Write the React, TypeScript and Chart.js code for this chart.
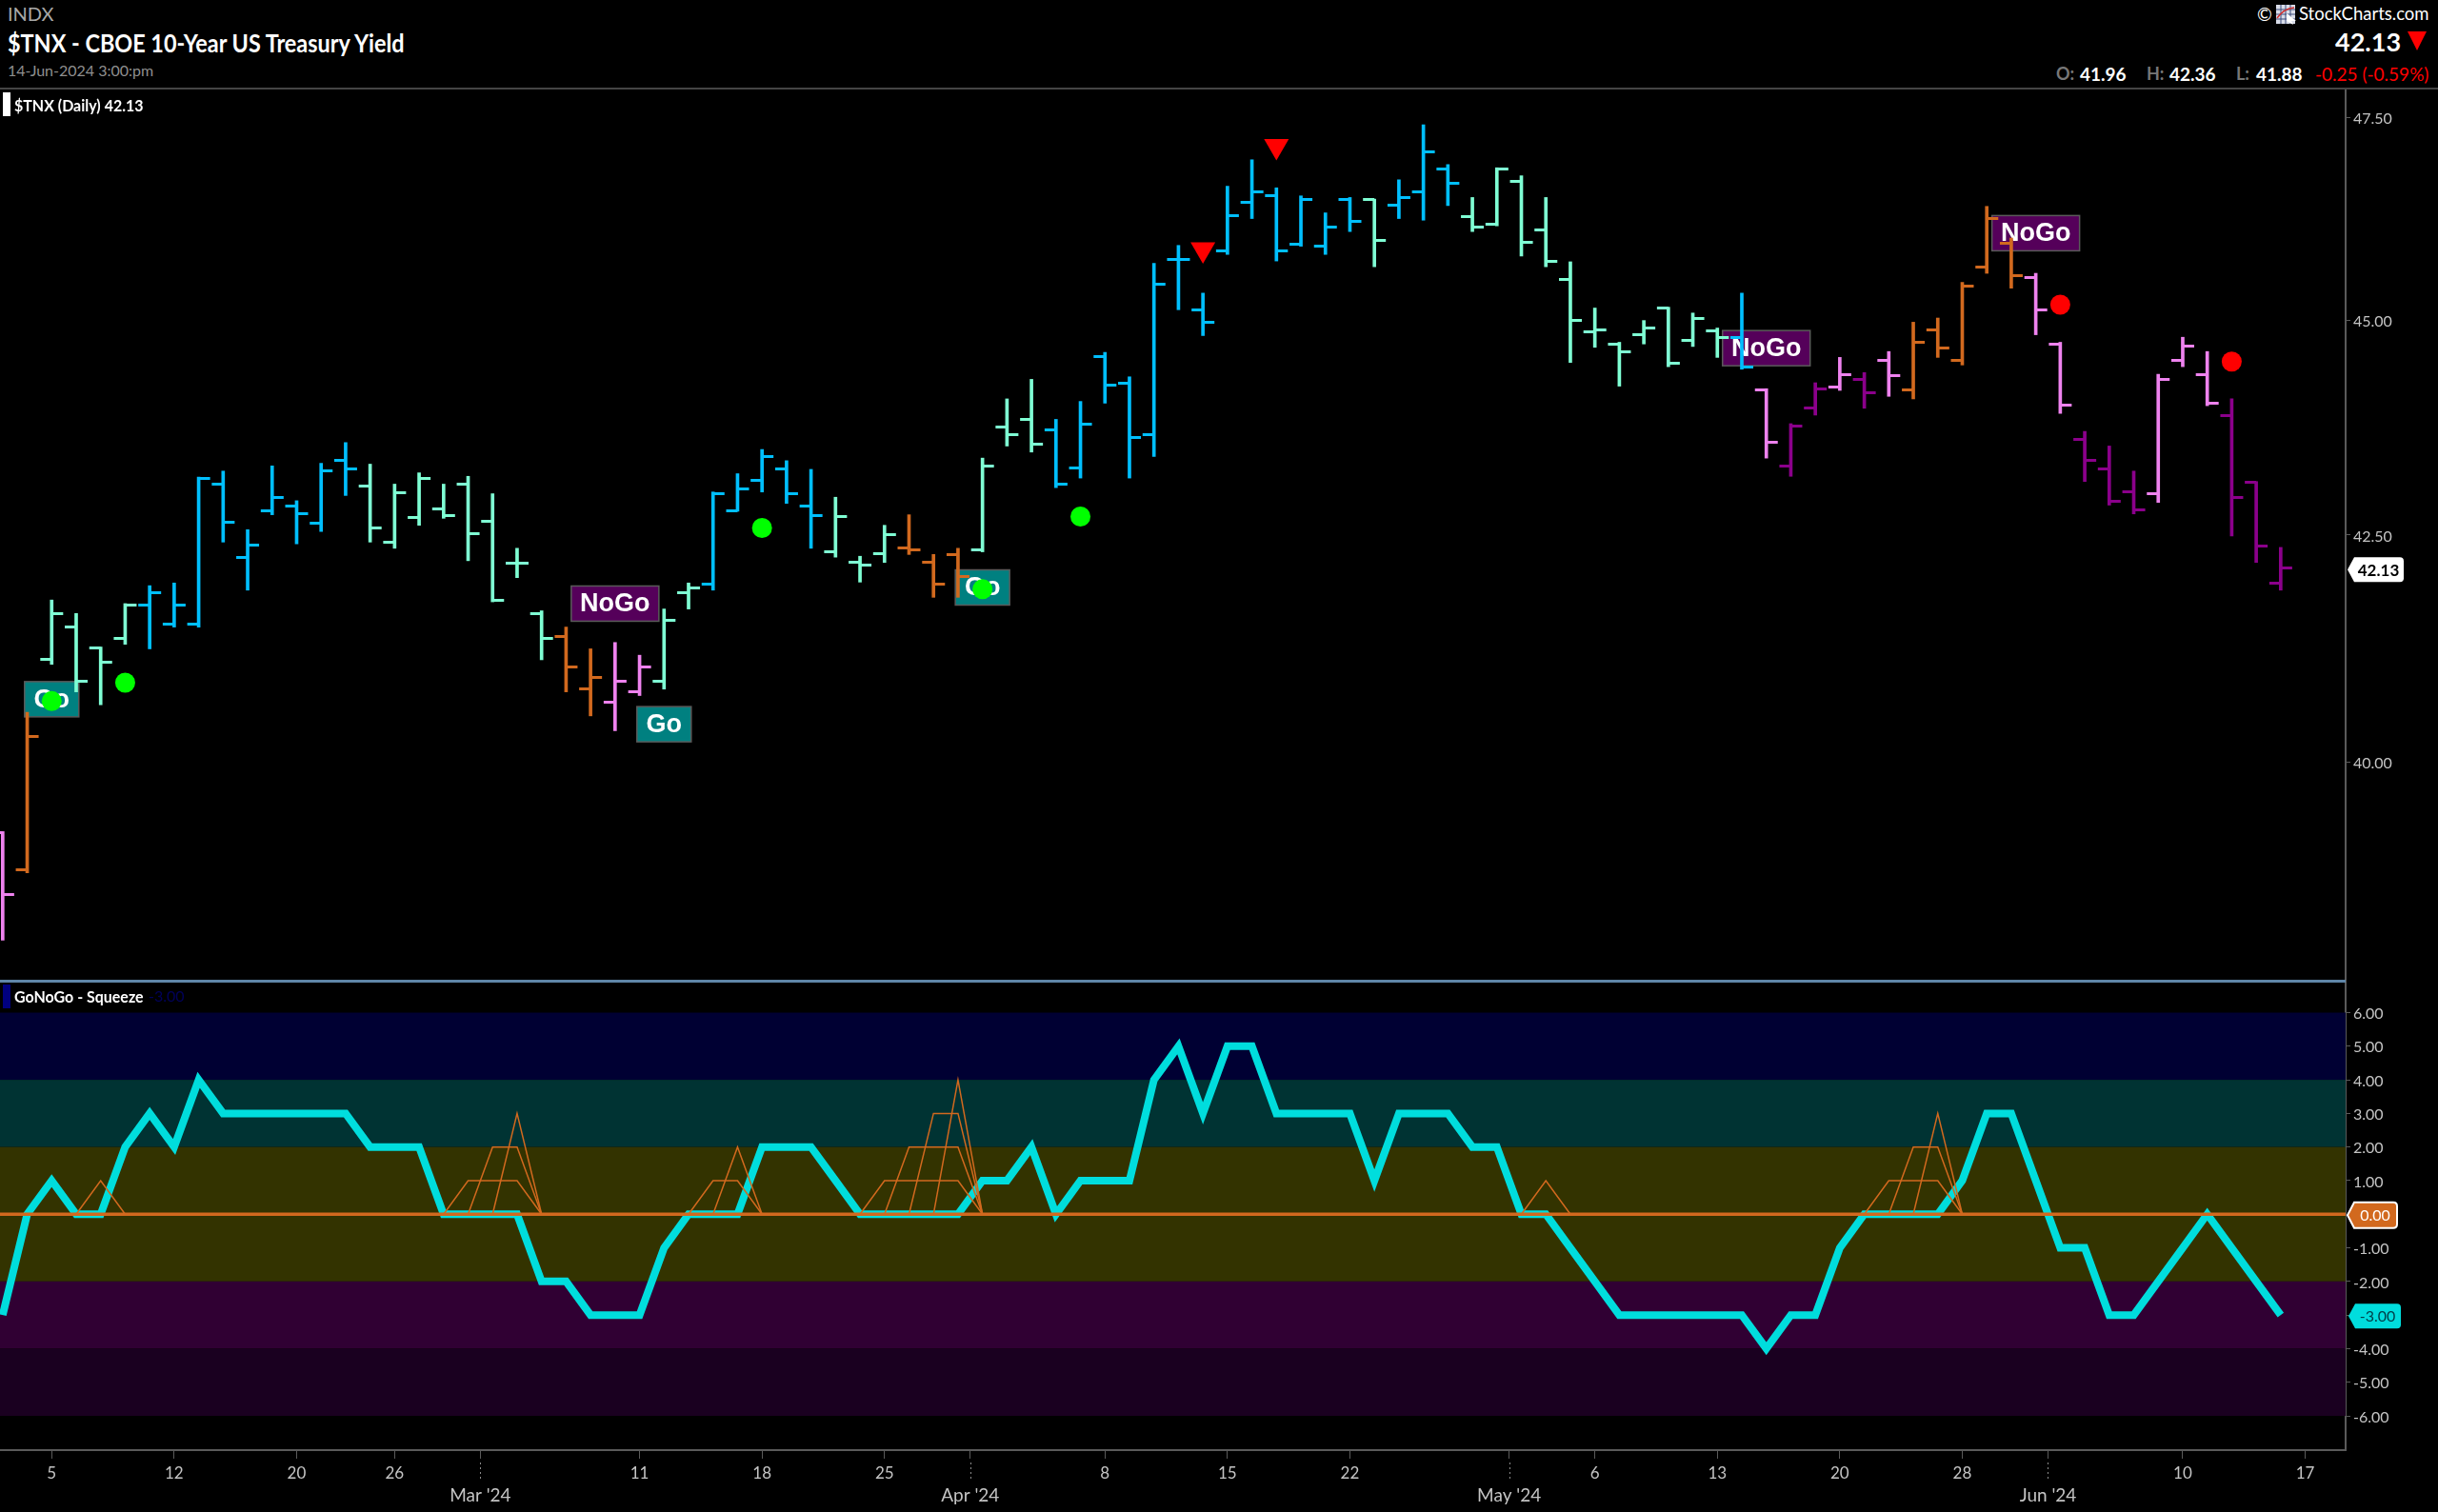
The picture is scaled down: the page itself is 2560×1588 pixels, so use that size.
import React, { useEffect, useRef } from "react";
import { Chart, registerables } from "chart.js";

Chart.register(...registerables);

const barIndex = [-2,-1,0,1,2,3,4,5,6,7,8,9,10,11,12,13,14,15,16,17,18,19,20,21,22,23,24,25,26,27,28,29,30,31,32,33,34,35,36,37,38,39,40,41,42,43,44,45,46,47,48,49,50,51,52,53,54,55,56,57,58,59,60,61,62,63,64,65,66,67,68,69,70,71,72,73,74,75,76,77,78,79,80,81,82,83,84,85,86,87,88,89,90,91];
const barOpen = [39.26,38.87,41.11,41.47,41.24,41.34,41.71,41.50,41.50,43.08,42.25,42.77,42.83,42.63,43.35,43.06,42.42,42.70,42.80,43.08,42.66,42.18,41.62,41.37,40.79,40.65,40.76,40.88,41.85,41.95,42.78,43.12,43.25,42.83,42.31,42.19,42.29,42.35,42.19,42.28,42.33,43.74,43.83,43.71,43.27,44.57,44.25,43.65,45.74,45.13,45.84,46.44,46.52,45.92,45.90,46.48,46.47,46.40,46.57,46.85,46.26,46.17,46.70,46.10,45.50,44.87,44.72,44.83,45.15,44.76,44.88,44.80,44.18,43.29,43.96,44.21,44.30,44.53,44.18,44.89,44.53,45.65,45.94,45.52,44.72,43.60,43.25,42.99,42.97,44.53,44.36,43.87,43.10,41.96];
const barHigh = [39.27,40.54,41.77,41.62,41.25,41.73,41.93,41.96,43.16,43.23,42.56,43.29,42.89,43.32,43.56,43.31,43.08,43.21,43.08,43.17,42.97,42.35,41.65,41.47,41.23,41.30,41.16,41.67,41.96,42.99,43.20,43.48,43.35,43.25,42.93,42.26,42.61,42.73,42.28,42.35,43.38,44.07,44.30,43.83,44.04,44.62,44.33,45.69,45.91,45.33,46.64,46.97,46.62,46.52,46.31,46.50,46.48,46.72,47.41,46.91,46.50,46.87,46.77,46.50,45.71,45.15,44.74,45.00,45.16,45.09,44.91,45.33,44.19,43.78,44.26,44.56,44.38,44.63,44.98,45.03,45.46,46.39,46.00,45.57,44.74,43.69,43.52,43.23,44.36,44.80,44.63,44.07,43.11,42.36];
const barLow = [38.15,38.84,41.06,40.76,40.62,41.28,41.23,41.47,41.47,42.42,41.88,42.73,42.40,42.54,42.95,42.42,42.35,42.61,42.69,42.21,41.75,42.02,41.11,40.76,40.50,40.34,40.72,40.79,41.67,41.88,42.77,42.99,42.86,42.35,42.25,41.97,42.19,42.28,41.80,41.80,42.31,43.52,43.45,43.04,43.15,44.02,43.15,43.40,45.13,44.82,45.80,46.24,45.72,45.90,45.80,46.08,45.65,46.24,46.22,46.40,46.08,46.15,45.78,45.65,44.50,44.68,44.22,44.72,44.45,44.69,44.56,44.42,43.38,43.17,43.88,44.17,43.96,44.10,44.07,44.56,44.47,45.57,45.39,44.83,43.90,43.11,42.84,42.74,42.87,44.45,43.99,42.49,42.19,41.88];
const barClose = [38.62,40.28,41.62,40.88,41.08,41.71,41.85,41.71,43.15,42.65,42.39,42.93,42.74,43.23,43.25,42.58,42.98,43.15,42.72,42.51,41.77,42.18,41.34,41.03,40.92,40.88,41.03,41.54,41.90,42.97,43.03,43.40,42.97,42.72,42.71,42.16,42.50,42.33,41.95,42.03,43.29,43.65,43.54,43.08,43.77,44.23,43.62,45.44,45.74,44.98,46.27,46.57,45.84,46.47,46.14,46.21,45.97,46.50,47.07,46.68,46.14,46.85,45.95,45.71,45.00,44.89,44.63,44.91,44.49,45.03,44.80,44.45,43.56,43.75,44.19,44.36,44.14,44.34,44.74,44.67,45.41,46.24,45.54,45.13,44.00,43.35,42.88,42.79,44.30,44.69,44.02,42.93,42.37,42.13];
const barTone = ["pink","orange","mint","mint","mint","mint","blue","blue","blue","blue","blue","blue","blue","blue","blue","mint","mint","mint","mint","mint","mint","mint","mint","orange","orange","pink","pink","mint","mint","blue","blue","blue","blue","blue","mint","mint","mint","orange","orange","orange","mint","mint","mint","blue","blue","blue","blue","blue","blue","blue","blue","blue","blue","blue","blue","blue","mint","blue","blue","blue","mint","mint","mint","mint","mint","mint","mint","mint","mint","mint","mint","blue","pink","purple","purple","pink","purple","pink","orange","orange","orange","orange","orange","pink","pink","purple","purple","purple","pink","pink","pink","purple","purple","purple"];
const toneColor: Record<string, string> = { pink: "#EE82EE", orange: "#D2691E", mint: "#7FFFD4", blue: "#00BFFF", purple: "#8B008B" };

const goDots = [{ x: 0, y: 40.66 }, { x: 3, y: 40.86 }, { x: 29, y: 42.58 }, { x: 38, y: 41.89 }, { x: 42, y: 42.71 }];
const noGoDots = [{ x: 82, y: 45.19 }, { x: 89, y: 44.51 }];
const downTriangles = [{ x: 47, y: 45.86 }, { x: 50, y: 47.14 }];
const flagLabels = [
  { text: "Go", x: 0, y: 40.68 },
  { text: "NoGo", x: 23, y: 41.73 },
  { text: "Go", x: 25, y: 40.41 },
  { text: "Go", x: 38, y: 41.91 },
  { text: "NoGo", x: 70, y: 44.67 },
  { text: "NoGo", x: 81, y: 46.06 },
];
const priceTicks = [40, 42.5, 45, 47.5];
const lastPrice = 42.13;

const oscValues = [-3,0,1,0,0,2,3,2,4,3,3,3,3,3,3,2,2,2,0,0,0,0,-2,-2,-3,-3,-3,-1,0,0,0,2,2,2,1,0,0,0,0,0,1,1,2,0,1,1,1,4,5,3,5,5,3,3,3,3,1,3,3,3,2,2,0,0,-1,-2,-3,-3,-3,-3,-3,-3,-4,-3,-3,-1,0,0,0,0,1,3,3,1,-1,-1,-3,-3,-2,-1,0,-1,-2,-3];
const squeezeLevel1: [number, number | null][] = [[1,0],[2,1],[3,0],[3.5,null],[16,0],[17,1],[19,1],[20,0],[20.5,null],[26,0],[27,1],[28,1],[29,0],[29.5,null],[33,0],[34,1],[37,1],[38,0],[38.5,null],[60,0],[61,1],[62,0],[62.5,null],[74,0],[75,1],[77,1],[78,0]];
const squeezeLevel2: [number, number | null][] = [[17,0],[18,2],[19,2],[20,0],[20.5,null],[27,0],[28,2],[29,0],[29.5,null],[34,0],[35,2],[37,2],[38,0],[38.5,null],[75,0],[76,2],[77,2],[78,0]];
const squeezeLevel3: [number, number | null][] = [[18,0],[19,3],[20,0],[20.5,null],[35,0],[36,3],[37,3],[38,0],[38.5,null],[76,0],[77,3],[78,0]];
const squeezeLevel4: [number, number | null][] = [[36,0],[37,4],[38,0]];
const oscBands = [
  { from: 4, to: 6, color: "#000033" },
  { from: 2, to: 4, color: "#003333" },
  { from: -2, to: 2, color: "#333300" },
  { from: -4, to: -2, color: "#300033" },
  { from: -6, to: -4, color: "#1A0020" },
];
const oscTicks = [-6,-5,-4,-3,-2,-1,1,2,3,4,5,6];
const oscZero = 0;
const oscLast = -3;

const timeTicks: [number, string | string[]][] = [
  [0,"5"],[5,"12"],[10,"20"],[14,"26"],[17.5,["","Mar '24"]],[24,"11"],[29,"18"],[34,"25"],[37.5,["","Apr '24"]],[43,"8"],[48,"15"],[53,"22"],[59.5,["","May '24"]],[63,"6"],[68,"13"],[73,"20"],[78,"28"],[81.5,["","Jun '24"]],[87,"10"],[92,"17"],
];

const FONT = "Lato, 'Open Sans', sans-serif";
const AXIS_TEXT = "#C4C4C4";
const AXIS_LINE = "#5A5A5A";
const X_MIN = -2.11;
const X_MAX = 93.65;

function tickImage(color: string, side: "left" | "right") {
  const c = document.createElement("canvas");
  c.width = 26;
  c.height = 3;
  const g = c.getContext("2d")!;
  g.fillStyle = color;
  g.fillRect(side === "left" ? 1 : 13, 0, 12, 3);
  return c;
}

function drawTag(ctx: CanvasRenderingContext2D, x: number, y: number, w: number, h: number, fill: string, stroke: string | null, text: string, textColor: string, font: string) {
  ctx.save();
  const r = 4;
  ctx.beginPath();
  ctx.moveTo(x, y);
  ctx.lineTo(x + 7, y - h / 2);
  ctx.lineTo(x + w - r, y - h / 2);
  ctx.quadraticCurveTo(x + w, y - h / 2, x + w, y - h / 2 + r);
  ctx.lineTo(x + w, y + h / 2 - r);
  ctx.quadraticCurveTo(x + w, y + h / 2, x + w - r, y + h / 2);
  ctx.lineTo(x + 7, y + h / 2);
  ctx.closePath();
  ctx.fillStyle = fill;
  ctx.fill();
  if (stroke) {
    ctx.strokeStyle = stroke;
    ctx.lineWidth = 2;
    ctx.stroke();
  }
  ctx.fillStyle = textColor;
  ctx.font = font;
  ctx.textAlign = "center";
  ctx.textBaseline = "middle";
  ctx.fillText(text, x + 3 + w / 2, y + 1);
  ctx.restore();
}

const clearPadding = (axis: any) => {
  axis.paddingTop = 0;
  axis.paddingBottom = 0;
  axis.paddingLeft = 0;
  axis.paddingRight = 0;
};
const fixedAxisWidth = (axis: any) => { axis.width = 97; clearPadding(axis); };

function xyFrom(points: [number, number | null][]) {
  return points.map(([x, y]) => ({ x, y }));
}

const Label = ({ x, y, size, color, weight = 400, scaleX = 1, children }: any) => (
  <span style={{ position: "absolute", left: x, top: y, transform: `translateY(-50%) scaleX(${scaleX})`, transformOrigin: "left center", fontFamily: FONT, fontSize: size, color, fontWeight: weight, lineHeight: 1, whiteSpace: "nowrap" }}>{children}</span>
);

export default function App() {
  const priceRef = useRef<HTMLCanvasElement>(null);
  const oscRef = useRef<HTMLCanvasElement>(null);

  useEffect(() => {
    document.body.style.margin = "0";
    document.body.style.background = "#000";

    const openImgs: Record<string, HTMLCanvasElement> = {};
    const closeImgs: Record<string, HTMLCanvasElement> = {};
    Object.keys(toneColor).forEach((k) => {
      openImgs[k] = tickImage(toneColor[k], "left");
      closeImgs[k] = tickImage(toneColor[k], "right");
    });

    const flagPlugin = {
      id: "flags",
      beforeDatasetsDraw(chart: any) {
        const { ctx, scales } = chart;
        flagLabels.forEach((f) => {
          const go = f.text === "Go";
          const w = go ? 57 : 92;
          const h = 37;
          const cx = scales.x.getPixelForValue(f.x);
          const cy = scales.y.getPixelForValue(f.y);
          ctx.save();
          ctx.fillStyle = go ? "#008080" : "#55005A";
          ctx.strokeStyle = "#5A5A5A";
          ctx.lineWidth = 1.5;
          ctx.fillRect(cx - w / 2, cy - h / 2, w, h);
          ctx.strokeRect(cx - w / 2, cy - h / 2, w, h);
          ctx.fillStyle = "#FFFFFF";
          ctx.font = "bold 27px 'Liberation Sans', sans-serif";
          ctx.textAlign = "center";
          ctx.textBaseline = "middle";
          ctx.fillText(f.text, cx, cy + 1);
          ctx.restore();
        });
      },
      afterDraw(chart: any) {
        const { ctx, scales, chartArea } = chart;
        drawTag(ctx, chartArea.right + 2, scales.y.getPixelForValue(lastPrice) + 2, 59, 26, "#FFFFFF", null, lastPrice.toFixed(2), "#000000", `bold 17px ${FONT}`);
      },
    };

    const price = new Chart(priceRef.current!, {
      type: "bar",
      data: {
        datasets: [
          { type: "line", label: "Go dots", data: goDots, showLine: false, pointStyle: "circle", pointRadius: 10.5, pointBackgroundColor: "#00FF00", pointBorderWidth: 0, order: 0 },
          { type: "line", label: "NoGo dots", data: noGoDots, showLine: false, pointStyle: "circle", pointRadius: 10.5, pointBackgroundColor: "#FF0000", pointBorderWidth: 0, order: 0 },
          { type: "line", label: "Down", data: downTriangles, showLine: false, pointStyle: "triangle", rotation: 180, pointRotation: 180, pointRadius: 15, pointBackgroundColor: "#FF0000", pointBorderWidth: 0, order: 0 },
          {
            type: "line", label: "Open", data: barIndex.map((x, i) => ({ x, y: barOpen[i] })), showLine: false, pointRadius: 3, pointBorderWidth: 0, order: 1,
            pointStyle: (c: any) => openImgs[barTone[c.dataIndex]],
          },
          {
            type: "line", label: "Close", data: barIndex.map((x, i) => ({ x, y: barClose[i] })), showLine: false, pointRadius: 3, pointBorderWidth: 0, order: 1,
            pointStyle: (c: any) => closeImgs[barTone[c.dataIndex]],
          },
          {
            type: "bar", label: "$TNX", data: barIndex.map((x, i) => ({ x, y: [barLow[i], barHigh[i]] })), barThickness: 3, order: 2,
            backgroundColor: barTone.map((t) => toneColor[t]), borderWidth: 0,
          },
        ] as any,
      },
      options: {
        animation: false,
        responsive: false,
        devicePixelRatio: 1,
        maintainAspectRatio: false,
        layout: { padding: 0, autoPadding: false },
        plugins: { legend: { display: false }, tooltip: { enabled: false }, title: { display: false } },
        scales: {
          x: { type: "linear", min: X_MIN, max: X_MAX, offset: false, display: false, grid: { display: false, offset: false } },
          y: {
            type: "logarithmic", position: "right", min: 37.74, max: 47.87,
            afterFit: fixedAxisWidth,
            afterBuildTicks: (axis: any) => { axis.ticks = priceTicks.map((value) => ({ value })); },
            border: { display: true, color: AXIS_LINE, width: 2 },
            grid: { drawOnChartArea: false, drawTicks: true, tickLength: 5, color: AXIS_LINE },
            ticks: { color: AXIS_TEXT, font: { family: FONT, size: 16 }, padding: 3, labelOffset: 1.5, autoSkip: false, callback: (v: any) => Number(v).toFixed(2) },
          },
        },
      } as any,
      plugins: [flagPlugin],
    });

    const oscPlugin = {
      id: "oscExtras",
      beforeDatasetsDraw(chart: any) {
        const { ctx, scales, chartArea } = chart;
        oscBands.forEach((b) => {
          const top = scales.y.getPixelForValue(b.to);
          const bot = scales.y.getPixelForValue(b.from);
          ctx.fillStyle = b.color;
          ctx.fillRect(chartArea.left, top, chartArea.right - chartArea.left, bot - top);
        });
      },
      afterDraw(chart: any) {
        const { ctx, scales, chartArea } = chart;
        drawTag(ctx, chartArea.right + 2, scales.y.getPixelForValue(oscZero) + 1, 52, 27, "#D2691E", "#FFFFFF", oscZero.toFixed(2), "#FFFFFF", `16px ${FONT}`);
        drawTag(ctx, chartArea.right + 3, scales.y.getPixelForValue(oscLast) + 1, 55, 26, "#00DDDD", null, oscLast.toFixed(2), "#00404A", `16px ${FONT}`);
        ctx.save();
        ctx.fillStyle = "#8A8A8A";
        timeTicks.forEach(([v, l]) => {
          if (Array.isArray(l)) {
            const px = Math.round(scales.x.getPixelForValue(v));
            for (let yy = chartArea.bottom + 13; yy < chartArea.bottom + 32; yy += 5) ctx.fillRect(px, yy, 1, 2);
          }
        });
        ctx.restore();
      },
    };

    const thin = { type: "line", showLine: true, borderColor: "#D2691E", borderWidth: 1.5, pointRadius: 0, spanGaps: false, tension: 0, order: 1 };

    const osc = new Chart(oscRef.current!, {
      type: "line",
      data: {
        datasets: [
          { label: "Zero", data: [{ x: X_MIN, y: oscZero }, { x: X_MAX, y: oscZero }], borderColor: "#D2691E", borderWidth: 3.5, pointRadius: 0, order: 0 },
          { ...thin, label: "Squeeze 1", data: xyFrom(squeezeLevel1) },
          { ...thin, label: "Squeeze 2", data: xyFrom(squeezeLevel2) },
          { ...thin, label: "Squeeze 3", data: xyFrom(squeezeLevel3) },
          { ...thin, label: "Squeeze 4", data: xyFrom(squeezeLevel4) },
          { label: "GoNoGo", data: barIndex.map((x, i) => ({ x, y: oscValues[i] })), borderColor: "#00DDDD", borderWidth: 8, pointRadius: 0, tension: 0, borderJoinStyle: "miter", order: 2 },
        ] as any,
      },
      options: {
        animation: false,
        responsive: false,
        devicePixelRatio: 1,
        maintainAspectRatio: false,
        layout: { padding: 0, autoPadding: false },
        plugins: { legend: { display: false }, tooltip: { enabled: false }, title: { display: false } },
        scales: {
          x: {
            type: "linear", min: X_MIN, max: X_MAX, offset: false,
            afterFit: (axis: any) => { axis.height = 65; clearPadding(axis); },
            afterBuildTicks: (axis: any) => { axis.ticks = timeTicks.map(([value]) => ({ value })); },
            border: { display: true, color: AXIS_LINE, width: 2 },
            grid: { drawOnChartArea: false, drawTicks: true, tickLength: 9, color: AXIS_LINE, offset: false },
            ticks: {
              color: AXIS_TEXT,
              font: (c: any) => {
                const month = c.tick && !Number.isInteger(c.tick.value);
                const size = month ? 19 : 17;
                return { family: FONT, size, lineHeight: 23 / size };
              },
              padding: 4, autoSkip: false, maxRotation: 0, minRotation: 0, includeBounds: false,
              callback: (v: any) => { const t = timeTicks.find(([value]) => value === v); return t ? t[1] : ""; },
            },
          },
          y: {
            type: "linear", position: "right", min: -7.02, max: 6.95,
            afterFit: fixedAxisWidth,
            afterBuildTicks: (axis: any) => { axis.ticks = oscTicks.map((value) => ({ value })); },
            border: { display: true, color: AXIS_LINE, width: 2 },
            grid: { drawOnChartArea: false, drawTicks: true, tickLength: 5, color: AXIS_LINE },
            ticks: { color: AXIS_TEXT, font: { family: FONT, size: 16 }, padding: 3, labelOffset: 1.5, autoSkip: false, callback: (v: any) => Number(v).toFixed(2) },
          },
        },
      } as any,
      plugins: [oscPlugin],
    });

    return () => {
      price.destroy();
      osc.destroy();
    };
  }, []);

  return (
    <div style={{ position: "absolute", left: 0, top: 0, width: 2560, height: 1588, background: "#000", overflow: "hidden" }}>
      <canvas ref={priceRef} width={2560} height={937} style={{ position: "absolute", left: 0, top: 93, width: 2560, height: 937 }} />
      <canvas ref={oscRef} width={2560} height={558} style={{ position: "absolute", left: 0, top: 1030, width: 2560, height: 558 }} />

      <div style={{ position: "absolute", left: 0, top: 92, width: 2560, height: 2, background: "#444" }} />
      <div style={{ position: "absolute", left: 0, top: 1029, width: 2463, height: 3, background: "#5F86A8" }} />

      <Label x={8} y={14} size={20} color="#A8A8A8">INDX</Label>
      <Label x={8} y={45} size={26} color="#FFFFFF" weight={700} scaleX={0.9}>$TNX - CBOE 10-Year US Treasury Yield</Label>
      <Label x={8} y={74} size={16} color="#8F8F8F">14-Jun-2024 3:00:pm</Label>

      <div style={{ position: "absolute", left: 3, top: 97, width: 8, height: 25, background: "#FFF" }} />
      <Label x={15} y={110} size={17} color="#FFFFFF" weight={700} scaleX={0.94}>$TNX (Daily) 42.13</Label>

      <div style={{ position: "absolute", left: 3, top: 1034, width: 8, height: 25, background: "#00007F" }} />
      <Label x={15} y={1046} size={17} color="#FFFFFF" weight={700} scaleX={0.94}>GoNoGo - Squeeze</Label>
      <Label x={156} y={1046} size={16} color="#00005A">-3.00</Label>

      <Label x={2370} y={14} size={19} color="#FFFFFF">©</Label>
      <svg width={22} height={21} viewBox="0 0 22 21" style={{ position: "absolute", left: 2390, top: 5 }}>
        <rect x={0} y={0} width={20} height={20} fill="#D8DCE8" />
        <path d="M0 5H20M0 10H20M0 15H20M5 0V20M10 0V20M15 0V20" stroke="#3A4A7A" strokeWidth={1} />
        <path d="M1 14Q8 4 19 3" stroke="#D03030" strokeWidth={1.5} fill="none" />
        <path d="M11 9L21 17L16 17L18 21L11 17Z" fill="#FFFFFF" />
      </svg>
      <Label x={2414} y={14} size={18.5} color="#FFFFFF">StockCharts.com</Label>

      <Label x={2452} y={43} size={27} color="#FFFFFF" weight={700}>42.13</Label>
      <svg width={20} height={20} style={{ position: "absolute", left: 2528, top: 33 }}>
        <polygon points="0,0 20,0 10,20" fill="#FF0000" />
      </svg>

      <Label x={2159} y={77} size={18} color="#777777" weight={700}>O:</Label>
      <Label x={2184} y={77} size={19} color="#FFFFFF" weight={700}>41.96</Label>
      <Label x={2254} y={77} size={18} color="#777777" weight={700}>H:</Label>
      <Label x={2278} y={77} size={19} color="#FFFFFF" weight={700}>42.36</Label>
      <Label x={2348} y={77} size={18} color="#777777" weight={700}>L:</Label>
      <Label x={2369} y={77} size={19} color="#FFFFFF" weight={700}>41.88</Label>
      <Label x={2431} y={77} size={19} color="#FF0000">-0.25 (-0.59%)</Label>
    </div>
  );
}
